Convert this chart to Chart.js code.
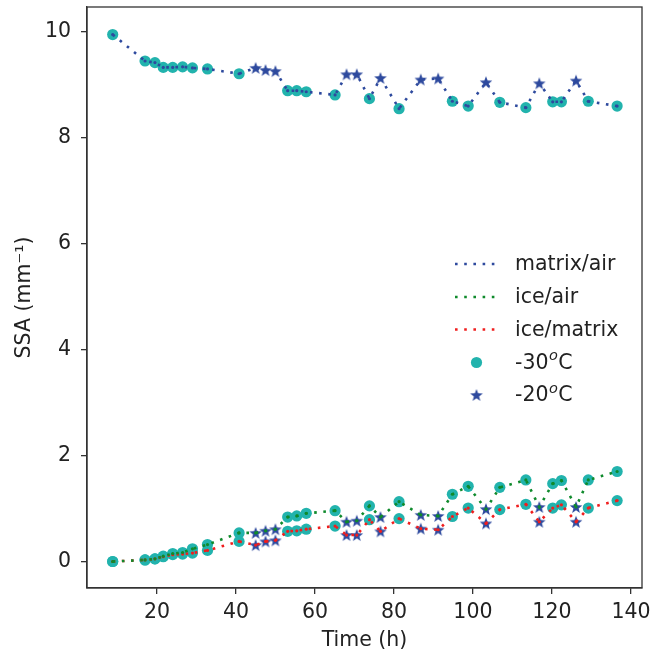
<!DOCTYPE html>
<html>
<head>
<meta charset="utf-8">
<script src="https://cdn.jsdelivr.net/npm/chart.js@4/dist/chart.umd.min.js"></script>
<style>
	html, body { margin: 0; padding: 0; background: #fff; }
</style>
</head>
<body>
<canvas id="ssaChart" width="652" height="656"></canvas>
<script>
// Time of each scan (h) and the temperature it was taken at
var times = [8.8, 17.0, 19.5, 21.6, 24.0, 26.5, 29.0, 32.8, 40.8, 45.0, 47.5, 50.0, 53.1, 55.4, 57.8, 65.1, 68.0,
	70.6, 73.8, 76.6, 81.3, 86.8, 91.2, 94.8, 98.8, 103.3, 106.8, 113.4, 116.8, 120.2, 122.4, 126.1, 129.2, 136.5];
var temps = [-30, -30, -30, -30, -30, -30, -30, -30, -30, -20, -20, -20, -30, -30, -30, -30, -20,
	-20, -30, -20, -30, -20, -20, -30, -30, -20, -30, -30, -20, -30, -30, -20, -30, -30];

// SSA values (mm^-1)
var matrixAir = [9.95, 9.45, 9.42, 9.33, 9.33, 9.34, 9.32, 9.30, 9.21, 9.32, 9.28, 9.26, 8.89, 8.89, 8.87, 8.81, 9.20,
	9.20, 8.74, 9.13, 8.55, 9.10, 9.12, 8.69, 8.60, 9.05, 8.67, 8.57, 9.03, 8.68, 8.68, 9.08, 8.69, 8.60];
var iceAir = [0.00, 0.03, 0.05, 0.10, 0.15, 0.17, 0.24, 0.32, 0.54, 0.54, 0.58, 0.61, 0.84, 0.86, 0.91, 0.96, 0.75,
	0.77, 1.05, 0.84, 1.13, 0.88, 0.86, 1.27, 1.42, 0.99, 1.40, 1.54, 1.03, 1.47, 1.53, 1.03, 1.54, 1.70];
var iceMatrix = [0.00, 0.03, 0.05, 0.09, 0.13, 0.14, 0.16, 0.21, 0.38, 0.31, 0.38, 0.40, 0.57, 0.58, 0.61, 0.67, 0.50,
	0.50, 0.79, 0.57, 0.81, 0.62, 0.60, 0.85, 1.01, 0.72, 0.98, 1.08, 0.75, 1.01, 1.07, 0.75, 1.01, 1.15];

var xTicks = [20, 40, 60, 80, 100, 120, 140];
var yTicks = [0, 2, 4, 6, 8, 10];

var fuente = 'DejaVu Sans';
var colorTexto = '#222';
var colorEje = '#333';
var azul = '#2e4a9e';
var verde = '#0f8a2c';
var rojo = '#f01e1e';
var turquesa = '#22b3ad';
var punteado = [2.6, 6.6];

function hacerEstrella(r, color) {
	var c = document.createElement('canvas');
	var s = Math.ceil(r * 2 + 2);
	c.width = s;
	c.height = s;
	var g = c.getContext('2d');
	g.fillStyle = color;
	g.beginPath();
	for (var k = 0; k < 10; k++) {
		var rad = k % 2 === 0 ? r : r * 0.42;
		var a = -Math.PI / 2 + k * Math.PI / 5;
		g.lineTo(s / 2 + rad * Math.cos(a), s / 2 + rad * Math.sin(a) + 0.6);
	}
	g.closePath();
	g.fill();
	return c;
}
var estrella = hacerEstrella(6.6, azul);

function serie(valores) {
	return times.map(function(t, i) { return { x: t, y: valores[i] }; });
}

function puntosTemp(temp) {
	var pts = [];
	[matrixAir, iceAir, iceMatrix].forEach(function(valores) {
		times.forEach(function(t, i) {
			if (temps[i] === temp) pts.push({ x: t, y: valores[i] });
		});
	});
	return pts;
}

function linea(label, valores, color) {
	return {
		label: label,
		data: serie(valores),
		showLine: true,
		borderColor: color,
		backgroundColor: color,
		borderWidth: 2.6,
		borderDash: punteado,
		pointRadius: 1.6,
		pointBorderWidth: 0,
		tension: 0,
		order: 0
	};
}

var datasets = [
	linea('matrix/air', matrixAir, azul),
	linea('ice/air', iceAir, verde),
	linea('ice/matrix', iceMatrix, rojo),
	{
		label: '-30ᵒC',
		data: puntosTemp(-30),
		showLine: false,
		pointStyle: 'circle',
		pointRadius: 5.6,
		backgroundColor: turquesa,
		borderWidth: 0,
		order: 2
	},
	{
		label: '-20ᵒC',
		data: puntosTemp(-20),
		showLine: false,
		pointStyle: estrella,
		backgroundColor: azul,
		borderWidth: 0,
		order: 1
	}
];

// box round the plot, like matplotlib spines
var marco = {
	id: 'marco',
	afterDraw: function(chart) {
		var a = chart.chartArea;
		var ctx = chart.ctx;
		ctx.save();
		ctx.strokeStyle = colorEje;
		ctx.lineWidth = 1.3;
		ctx.strokeRect(a.left, a.top, a.right - a.left, a.bottom - a.top);
		ctx.restore();
	}
};

// writes a label, with the 'ᵒ' drawn as a raised small o
function textoConGrado(ctx, texto, x, y) {
	var partes = texto.split('ᵒ');
	ctx.font = '20.5px "' + fuente + '"';
	ctx.fillText(partes[0], x, y);
	if (partes.length < 2) return;
	x += ctx.measureText(partes[0]).width + 0.5;
	ctx.font = 'italic 14.5px "' + fuente + '"';
	ctx.fillText('o', x, y - 7);
	x += ctx.measureText('o').width + 0.5;
	ctx.font = '20.5px "' + fuente + '"';
	ctx.fillText(partes[1], x, y);
}

// legend drawn inside the plot, right side
var leyenda = {
	id: 'leyenda',
	afterDraw: function(chart) {
		var ctx = chart.ctx;
		var filas = [264, 297, 329.5, 362.5, 395];
		var xMuestra = 455, anchoMuestra = 43, xTexto = 515;
		ctx.save();
		ctx.textBaseline = 'middle';
		chart.data.datasets.forEach(function(ds, i) {
			var y = filas[i];
			if (ds.showLine) {
				ctx.strokeStyle = ds.borderColor;
				ctx.lineWidth = ds.borderWidth;
				ctx.setLineDash(ds.borderDash);
				ctx.beginPath();
				ctx.moveTo(xMuestra, y);
				ctx.lineTo(xMuestra + anchoMuestra, y);
				ctx.stroke();
				ctx.setLineDash([]);
			} else if (ds.pointStyle === 'circle') {
				ctx.fillStyle = ds.backgroundColor;
				ctx.beginPath();
				ctx.arc(xMuestra + anchoMuestra / 2, y, ds.pointRadius, 0, Math.PI * 2);
				ctx.fill();
			} else {
				ctx.drawImage(ds.pointStyle, xMuestra + anchoMuestra / 2 - ds.pointStyle.width / 2, y - ds.pointStyle.height / 2);
			}
			ctx.fillStyle = colorTexto;
			textoConGrado(ctx, ds.label, xTexto, y + 1);
		});
		ctx.restore();
	}
};

var ctx = document.getElementById('ssaChart').getContext('2d');
new Chart(ctx, {
	type: 'scatter',
	data: { datasets: datasets },
	options: {
		responsive: false,
		animation: false,
		devicePixelRatio: 1,
		layout: { padding: { top: 7, right: 10, bottom: 0, left: 0 } },
		plugins: {
			legend: { display: false },
			tooltip: { enabled: false }
		},
		scales: {
			x: {
				type: 'linear',
				min: 2.3,
				max: 142.8,
				afterBuildTicks: function(s) { s.ticks = xTicks.map(function(v) { return { value: v }; }); },
				afterFit: function(s) { s.height = 68; s.paddingLeft = 0; s.paddingRight = 0; },
				ticks: { font: { family: fuente, size: 20.5 }, color: colorTexto, padding: 6, maxRotation: 0, autoSkip: false },
				grid: { drawOnChartArea: false, tickLength: 6, color: colorEje, lineWidth: 1.3 },
				border: { display: true, color: colorEje, width: 1.3 },
				title: { display: true, text: 'Time (h)', font: { family: fuente, size: 20.5 }, color: colorTexto, padding: { top: 0, bottom: 3 } }
			},
			y: {
				type: 'linear',
				min: -0.5,
				max: 10.47,
				afterBuildTicks: function(s) { s.ticks = yTicks.map(function(v) { return { value: v }; }); },
				afterFit: function(s) { s.width = 87; s.paddingTop = 0; s.paddingBottom = 0; },
				ticks: { font: { family: fuente, size: 20.5 }, color: colorTexto, padding: 10 },
				grid: { drawOnChartArea: false, tickLength: 6, color: colorEje, lineWidth: 1.3 },
				border: { display: true, color: colorEje, width: 1.3 },
				title: { display: true, text: 'SSA (mm⁻¹)', font: { family: fuente, size: 20.5 }, color: colorTexto, padding: { top: 12.5, bottom: 0 } }
			}
		}
	},
	plugins: [marco, leyenda]
});
</script>
</body>
</html>
